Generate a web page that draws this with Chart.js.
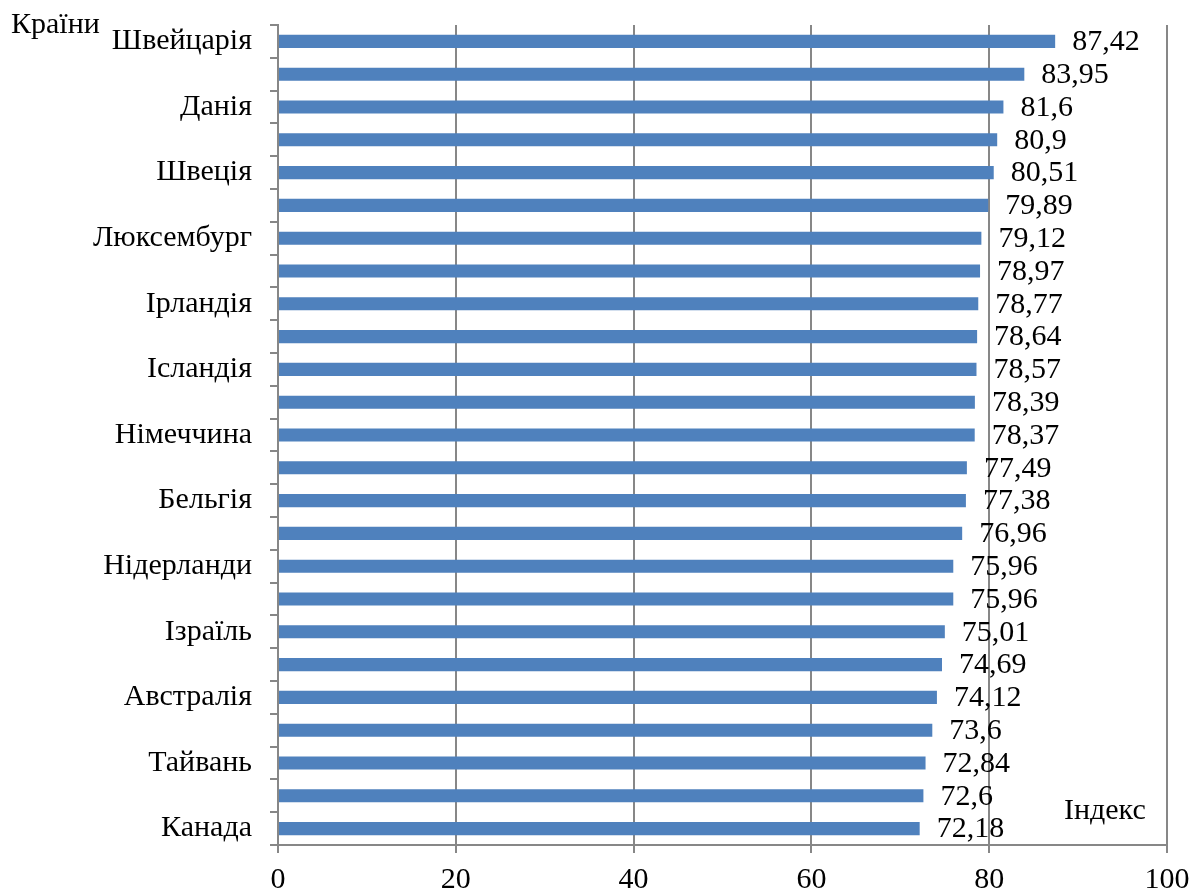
<!DOCTYPE html>
<html>
<head>
<meta charset="utf-8">
<script src="https://cdn.jsdelivr.net/npm/chart.js@4/dist/chart.umd.min.js"></script>
<style>
  html, body { margin: 0; padding: 0; background: #fff; }
  canvas { display: block; }
</style>
</head>
<body>
<canvas id="c" width="1200" height="894"></canvas>
<script>
const categories = ["Швейцарія", "", "Данія", "", "Швеція", "", "Люксембург", "", "Ірландія", "", "Ісландія", "", "Німеччина", "", "Бельгія", "", "Нідерланди", "", "Ізраїль", "", "Австралія", "", "Тайвань", "", "Канада"];
const indexValues = [87.42, 83.95, 81.6, 80.9, 80.51, 79.89, 79.12, 78.97, 78.77, 78.64, 78.57, 78.39, 78.37, 77.49, 77.38, 76.96, 75.96, 75.96, 75.01, 74.69, 74.12, 73.6, 72.84, 72.6, 72.18];
const xTicks = [0, 20, 40, 60, 80, 100];
const yAxisTitle = "Країни";
const xAxisTitle = "Індекс";

const FONT = "'Liberation Serif', 'Times New Roman', serif";
const GRID = '#878787';

const labelsPlugin = {
  id: 'valueLabels',
  afterDatasetsDraw(chart) {
    const ctx = chart.ctx;
    const meta = chart.getDatasetMeta(0);
    ctx.save();
    ctx.font = '30px ' + FONT;
    ctx.fillStyle = '#000';
    ctx.textAlign = 'left';
    ctx.textBaseline = 'middle';
    meta.data.forEach((bar, i) => {
      const txt = String(indexValues[i]).replace('.', ',');
      ctx.fillText(txt, bar.x + 17, bar.y + 1);
    });
    ctx.textBaseline = 'alphabetic';
    ctx.fillText(yAxisTitle, 11, 33);
    ctx.textBaseline = 'middle';
    ctx.fillText(xAxisTitle, 1064, 811);
    ctx.restore();
  }
};

new Chart(document.getElementById('c'), {
  type: 'bar',
  data: {
    labels: categories,
    datasets: [{
      data: indexValues,
      backgroundColor: '#4F81BD',
      borderWidth: 0,
      barPercentage: 0.4,
      categoryPercentage: 1.0
    }]
  },
  options: {
    indexAxis: 'y',
    responsive: false,
    animation: false,
    devicePixelRatio: 1,
    layout: { padding: { top: 25, right: 33, left: 0, bottom: 0 } },
    plugins: { legend: { display: false }, tooltip: { enabled: false } },
    scales: {
      x: {
        min: 0, max: 100,
        afterBuildTicks(scale) { scale.ticks = xTicks.map(v => ({ value: v })); },
        afterFit(scale) { scale.height = 49; scale.paddingLeft = 0; scale.paddingRight = 0; },
        grid: { color: GRID, lineWidth: 2, tickLength: 8, drawTicks: true },
        border: { color: GRID, width: 2 },
        ticks: { font: { family: FONT, size: 30 }, color: '#000', padding: 9, maxRotation: 0 }
      },
      y: {
        afterFit(scale) { scale.width = 278; scale.paddingTop = 0; scale.paddingBottom = 0; },
        grid: { drawOnChartArea: false, color: GRID, lineWidth: 2, tickLength: 8, offset: true },
        border: { color: GRID, width: 2 },
        ticks: { autoSkip: false, font: { family: FONT, size: 30 }, color: '#000', padding: 18 }
      }
    }
  },
  plugins: [labelsPlugin]
});
</script>
</body>
</html>
